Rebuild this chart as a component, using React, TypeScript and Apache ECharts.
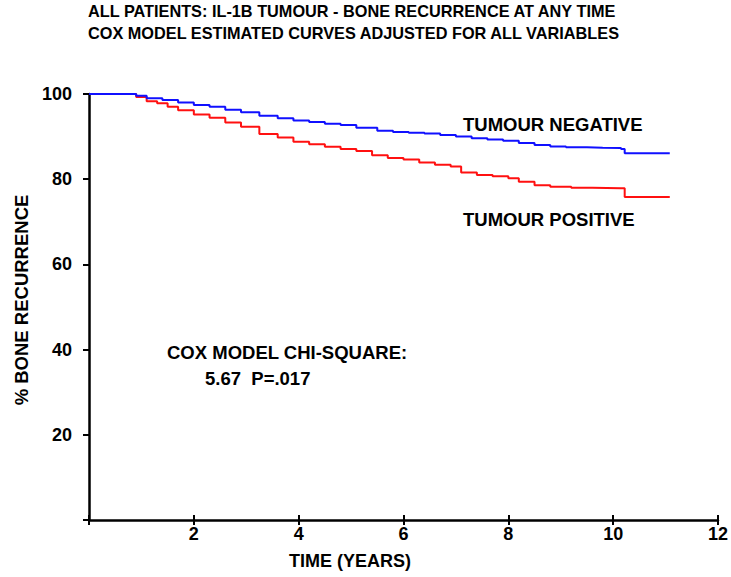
import React, { useEffect, useRef } from "react";
import * as echarts from "echarts";

const negTime = [0, 0.7, 0.9, 1.1, 1.4, 1.7, 2.0, 2.3, 2.6, 2.9, 3.25, 3.6, 3.9, 4.2, 4.5, 4.8, 5.1, 5.5, 5.8, 6.1, 6.4, 6.7, 7.0, 7.3, 7.6, 7.9, 8.2, 8.5, 8.8, 9.1, 9.5, 9.8, 10.15, 10.22, 11.08];
const negValue = [100, 100, 99.6, 99.0, 98.6, 98.0, 97.4, 97.0, 96.3, 95.7, 94.9, 94.3, 93.8, 93.4, 93.0, 92.7, 92.1, 91.4, 91.1, 90.9, 90.7, 90.4, 90.0, 89.6, 89.3, 89.0, 88.5, 88.0, 87.7, 87.5, 87.4, 87.3, 87.1, 86.1, 86.1];

const posTime = [0, 0.8, 0.9, 1.1, 1.3, 1.5, 1.7, 2.0, 2.3, 2.6, 2.9, 3.25, 3.6, 3.9, 4.2, 4.5, 4.8, 5.1, 5.4, 5.7, 6.0, 6.3, 6.6, 6.9, 7.1, 7.4, 7.7, 8.0, 8.2, 8.5, 8.8, 9.2, 9.6, 10.15, 10.22, 11.08];
const posValue = [100, 100, 99.3, 98.3, 97.8, 97.0, 96.2, 95.2, 94.4, 93.3, 92.3, 90.6, 89.8, 88.8, 88.2, 87.6, 87.1, 86.6, 85.6, 85.0, 84.6, 83.9, 83.4, 83.0, 81.6, 81.0, 80.7, 80.2, 79.4, 78.6, 78.2, 78.0, 77.9, 77.9, 75.8, 75.8];

const titleLines = [
  "ALL PATIENTS: IL-1B TUMOUR - BONE RECURRENCE AT ANY TIME",
  "COX MODEL ESTIMATED CURVES ADJUSTED FOR ALL VARIABLES",
];
const seriesNames = ["TUMOUR NEGATIVE", "TUMOUR POSITIVE"];
const statLines = ["COX MODEL CHI-SQUARE:", "5.67  P=.017"];
const xAxisTitle = "TIME (YEARS)";
const yAxisTitle = "% BONE RECURRENCE";

const FONT = "'Liberation Sans', Arial, Helvetica, sans-serif";

export default function App() {
  const ref = useRef<HTMLDivElement>(null);
  useEffect(() => {
    if (!ref.current) return;
    const chart = echarts.init(ref.current, null, { renderer: "svg" });
    const labelStyle = { color: "#000", fontFamily: FONT, fontWeight: "bold" as const, fontSize: 18 };
    const txt = (x: number, y: number, text: string, size: number, align = "left", rotation = 0) => ({
      type: "text",
      x,
      y,
      rotation,
      style: { text, fill: "#000", font: `bold ${size}px ${FONT}`, textAlign: align, textVerticalAlign: "middle" },
    });
    chart.setOption({
      animation: false,
      backgroundColor: "#fff",
      grid: { left: 89, right: 10, top: 94, bottom: 57, containLabel: false },
      xAxis: [
        {
          type: "value",
          min: 0,
          max: 12,
          interval: 2,
          axisLine: { lineStyle: { color: "#000", width: 2.5 } },
          axisTick: { lineStyle: { color: "#000", width: 2 }, length: 5 },
          axisLabel: {
            ...labelStyle,
            margin: 14,
            verticalAlign: "middle",
            formatter: (v: number) => (v === 0 ? "" : String(v)),
          },
          splitLine: { show: false },
        },
        {
          type: "value",
          min: 0,
          max: 12,
          interval: 2,
          position: "bottom",
          axisLine: { show: false },
          axisTick: { inside: true, lineStyle: { color: "#000", width: 2 }, length: 5 },
          axisLabel: { show: false },
          splitLine: { show: false },
        },
      ],
      yAxis: {
        type: "value",
        min: 0,
        max: 100,
        interval: 20,
        axisLine: { lineStyle: { color: "#000", width: 2.5 } },
        axisTick: { lineStyle: { color: "#000", width: 2 }, length: 6 },
        axisLabel: {
          ...labelStyle,
          margin: 17,
          formatter: (v: number) => (v === 0 ? "" : String(v)),
        },
        splitLine: { show: false },
      },
      series: [
        {
          type: "line",
          name: seriesNames[0],
          step: "end",
          showSymbol: false,
          symbol: "none",
          data: negTime.map((t, i) => [t, negValue[i]]),
          lineStyle: { color: "#1010ff", width: 2 },
          z: 3,
        },
        {
          type: "line",
          name: seriesNames[1],
          step: "end",
          showSymbol: false,
          symbol: "none",
          data: posTime.map((t, i) => [t, posValue[i]]),
          lineStyle: { color: "#ff1010", width: 2 },
          z: 2,
        },
      ],
      graphic: [
        txt(88, 11, titleLines[0], 16.3),
        txt(88, 33, titleLines[1], 16.3),
        txt(463, 124, seriesNames[0], 18.5),
        txt(463, 219, seriesNames[1], 18.5),
        txt(167, 352, statLines[0], 18.5),
        txt(205, 378, statLines[1], 18.5),
        txt(350, 561, xAxisTitle, 18, "center"),
        txt(21, 300, yAxisTitle, 18.5, "center", Math.PI / 2),
      ],
    });
    return () => chart.dispose();
  }, []);
  return <div ref={ref} style={{ position: "absolute", left: 0, top: 0, width: 731, height: 577 }} />;
}
